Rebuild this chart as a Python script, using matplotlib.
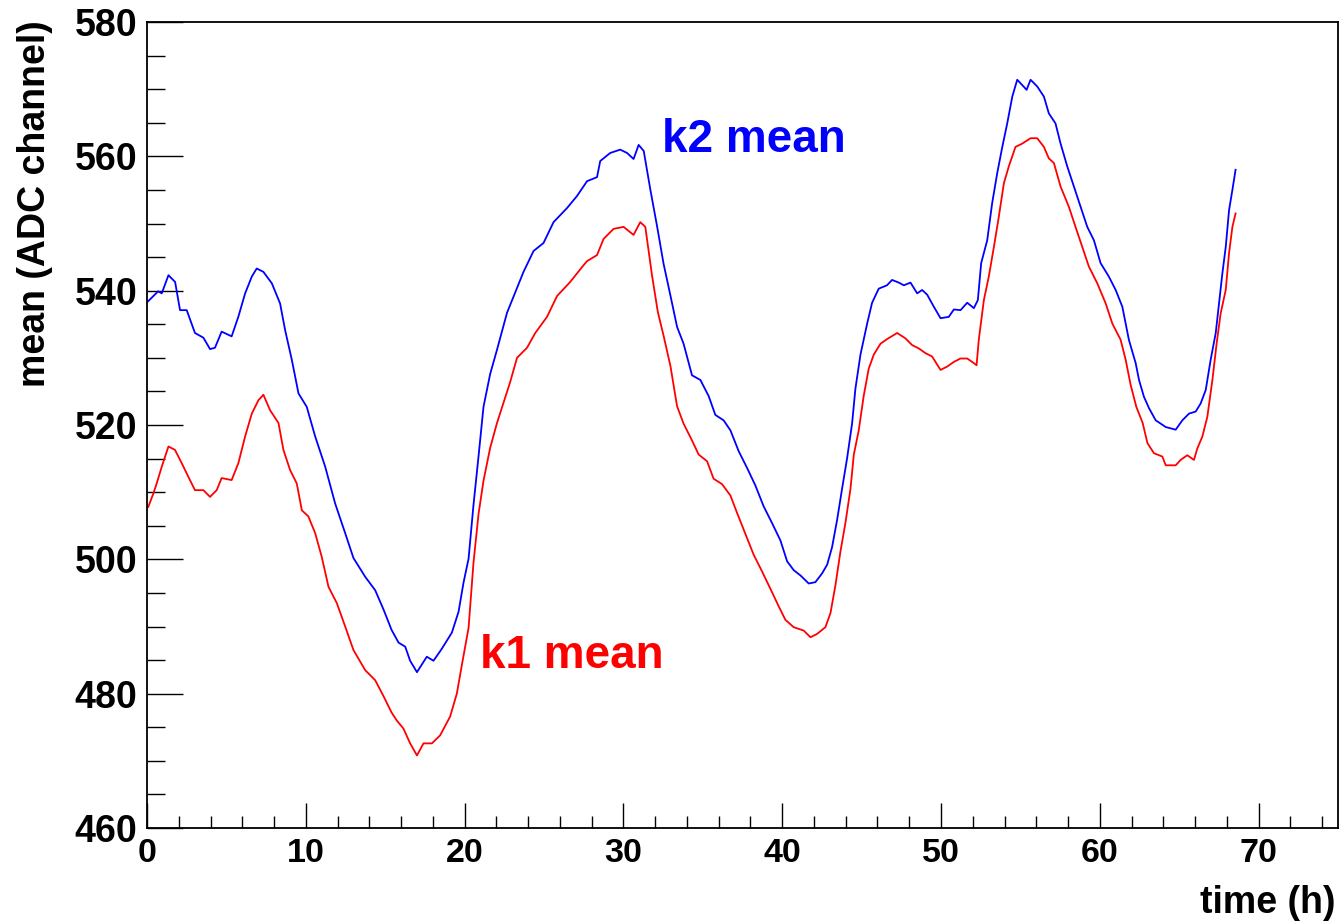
import matplotlib
matplotlib.use("Agg")
import matplotlib.pyplot as plt
from matplotlib.ticker import MultipleLocator

plt.rcParams['font.family'] = ['Liberation Sans', 'DejaVu Sans']

# ---- data ----
k2_time = [0.06, 0.7, 0.93, 1.35, 1.77, 2.08, 2.5, 3.02, 3.55, 3.97, 4.28, 4.7, 5.33, 5.75,
           6.18, 6.6, 6.91, 7.33, 7.86, 8.38, 8.7, 9.12, 9.54, 10.06, 10.59, 11.22, 11.85,
           12.48, 13.0, 13.74, 14.37, 14.9, 15.4, 15.84, 16.26, 16.57, 17.0, 17.62, 18.04,
           18.57, 19.2, 19.62, 19.93, 20.25, 20.56, 20.88, 21.19, 21.61, 22.04, 22.67, 23.3,
           23.71, 24.34, 24.97, 25.6, 26.45, 27.08, 27.71, 28.34, 28.54, 29.17, 29.8, 30.23,
           30.64, 30.96, 31.28, 31.7, 32.12, 32.53, 32.95, 33.38, 33.79, 34.32, 34.85, 35.37,
           35.79, 36.31, 36.74, 37.26, 37.79, 38.31, 38.83, 39.36, 39.89, 40.31, 40.72, 41.15,
           41.67, 42.09, 42.51, 42.83, 43.14, 43.46, 43.77, 44.09, 44.40, 44.61, 44.93, 45.35,
           45.66, 46.08, 46.6, 46.92, 47.34, 47.66, 48.08, 48.5, 48.81, 49.13, 49.55, 49.97,
           50.49, 50.81, 51.23, 51.65, 52.07, 52.32, 52.53, 52.91, 53.22, 53.54, 53.86, 54.17,
           54.49, 54.8, 55.12, 55.39, 55.64, 56.06, 56.48, 56.79, 57.21, 57.53, 57.95, 58.37,
           58.79, 59.21, 59.63, 60.05, 60.57, 61.0, 61.42, 61.83, 62.26, 62.47, 62.78, 63.1,
           63.52, 64.15, 64.78, 65.2, 65.62, 66.04, 66.35, 66.67, 66.98, 67.3, 67.51, 67.72,
           67.93, 68.14, 68.35, 68.55]
k2_mean = [538.4, 539.9, 539.6, 542.3, 541.3, 537.1, 537.1, 533.7, 533.0, 531.3, 531.5, 533.9,
           533.2, 536.1, 539.6, 542.1, 543.3, 542.8, 541.1, 538.1, 534.1, 529.7, 524.7, 522.7,
           518.3, 513.8, 508.3, 503.9, 500.2, 497.4, 495.4, 492.5, 489.5, 487.6, 487.0, 484.9,
           483.2, 485.5, 484.9, 486.7, 489.1, 492.2, 496.5, 500.1, 508.1, 515.4, 522.7, 527.6,
           531.2, 536.7, 540.4, 542.8, 545.9, 547.1, 550.2, 552.3, 554.1, 556.3, 556.9, 559.3,
           560.5, 561.0, 560.5, 559.6, 561.7, 560.8, 555.0, 549.6, 544.0, 539.4, 534.6, 532.1,
           527.4, 526.7, 524.3, 521.5, 520.7, 519.2, 516.1, 513.6, 511.0, 507.9, 505.4, 502.8,
           499.7, 498.4, 497.6, 496.4, 496.6, 497.9, 499.2, 501.8, 505.9, 510.5, 515.1, 520.2,
           525.4, 530.5, 535.1, 538.2, 540.3, 540.8, 541.6, 541.2, 540.8, 541.2, 539.6, 540.1,
           539.4, 537.6, 535.9, 536.1, 537.2, 537.1, 538.2, 537.4, 538.6, 544.1, 547.5, 553.0,
           557.5, 561.4, 564.9, 568.9, 571.4, 570.6, 569.9, 571.4, 570.4, 568.9, 566.4, 564.9,
           561.9, 558.5, 555.5, 552.5, 549.5, 547.5, 544.1, 542.1, 540.1, 537.6, 532.7, 529.2,
           526.7, 524.2, 522.5, 520.7, 519.7, 519.3, 520.7, 521.7, 522.0, 523.2, 525.2, 529.7,
           533.7, 538.1, 542.6, 546.5, 552.0, 555.0, 558.0]

k1_time = [0.08, 0.4, 0.61, 0.93, 1.35, 1.76, 2.19, 2.6, 3.02, 3.55, 3.97, 4.39, 4.7, 5.33,
           5.75, 6.18, 6.6, 7.02, 7.33, 7.75, 8.28, 8.59, 9.01, 9.43, 9.75, 10.16, 10.59, 11.0,
           11.43, 11.95, 12.48, 13.0, 13.74, 14.37, 14.9, 15.4, 15.73, 16.15, 16.57, 17.0,
           17.41, 17.94, 18.46, 19.09, 19.51, 19.83, 20.25, 20.56, 20.88, 21.19, 21.61, 22.04,
           22.45, 22.87, 23.3, 23.93, 24.45, 25.19, 25.82, 26.65, 27.39, 27.71, 28.34, 28.75,
           29.38, 30.01, 30.64, 31.06, 31.38, 31.8, 32.17, 32.54, 32.96, 33.38, 33.79, 34.32,
           34.74, 35.27, 35.68, 36.21, 36.74, 37.16, 37.68, 38.2, 38.73, 39.26, 39.78, 40.2,
           40.72, 41.35, 41.78, 42.2, 42.72, 43.04, 43.35, 43.67, 43.98, 44.3, 44.51, 44.82,
           45.13, 45.45, 45.77, 46.19, 46.61, 47.24, 47.76, 48.18, 48.6, 49.02, 49.44, 49.97,
           50.39, 50.81, 51.23, 51.65, 51.96, 52.24, 52.38, 52.7, 53.01, 53.33, 53.64, 53.96,
           54.27, 54.69, 55.12, 55.64, 56.06, 56.48, 56.79, 57.11, 57.53, 58.05, 58.47, 58.9,
           59.31, 59.84, 60.37, 60.79, 61.31, 61.63, 61.94, 62.3, 62.7, 63.0, 63.41, 63.94,
           64.15, 64.78, 65.09, 65.51, 65.93, 66.14, 66.46, 66.77, 67.09, 67.36, 67.61, 67.93,
           68.14, 68.35, 68.55]
k1_mean = [507.8, 509.8, 511.3, 513.8, 516.8, 516.3, 514.3, 512.3, 510.3, 510.3, 509.3, 510.3,
           512.1, 511.8, 514.3, 518.3, 521.7, 523.7, 524.5, 522.2, 520.3, 516.3, 513.3, 511.3,
           507.3, 506.4, 503.9, 500.4, 495.9, 493.5, 490.0, 486.5, 483.5, 482.0, 479.6, 477.2,
           476.0, 474.8, 472.6, 470.8, 472.6, 472.6, 473.8, 476.6, 480.0, 484.3, 489.8, 499.5,
           506.8, 511.7, 516.6, 520.3, 523.3, 526.4, 530.0, 531.5, 533.7, 536.1, 539.2, 541.3,
           543.5, 544.4, 545.3, 547.7, 549.2, 549.5, 548.3, 550.2, 549.5, 542.3, 536.8, 533.2,
           528.8, 522.8, 520.2, 517.7, 515.6, 514.6, 512.0, 511.2, 509.5, 506.9, 503.8, 500.7,
           498.2, 495.6, 493.0, 491.0, 489.9, 489.4, 488.4, 488.9, 489.9, 492.0, 496.1, 501.2,
           505.4, 510.5, 515.6, 519.2, 524.3, 528.4, 530.5, 532.1, 532.8, 533.7, 532.9, 531.9,
           531.4, 530.7, 530.2, 528.2, 528.7, 529.4, 529.9, 529.9, 529.4, 528.9, 532.7, 538.6,
           542.1, 546.5, 551.0, 556.0, 558.5, 561.4, 561.9, 562.7, 562.7, 561.4, 559.7, 559.0,
           555.5, 552.5, 549.5, 546.5, 543.6, 541.1, 538.1, 535.1, 532.7, 529.7, 526.0, 522.7,
           520.3, 517.3, 515.8, 515.3, 514.0, 514.0, 514.8, 515.5, 514.8, 516.5, 518.3, 521.2,
           526.7, 532.2, 536.6, 540.1, 545.6, 549.5, 551.5]

x_range = (0, 75)
y_range = (460, 580)
x_label = "time (h)"
y_label = "mean (ADC channel)"
k2_label = "k2 mean"
k1_label = "k1 mean"

# ---- figure ----
fig = plt.figure(figsize=(13.44, 9.24), dpi=100)
ax = fig.add_axes([147/1344, 96/924, 1191/1344, 806/924])

ax.plot(k2_time, k2_mean, color=(0, 0, 1), lw=1.3)
ax.plot(k1_time, k1_mean, color=(1, 0, 0), lw=1.3)

ax.set_xlim(*x_range)
ax.set_ylim(*y_range)

ax.xaxis.set_major_locator(MultipleLocator(10))
ax.xaxis.set_minor_locator(MultipleLocator(2))
ax.yaxis.set_major_locator(MultipleLocator(20))
ax.yaxis.set_minor_locator(MultipleLocator(5))

for s in ax.spines.values():
    s.set_linewidth(1.3)
    s.set_color('black')

ax.tick_params(axis='x', which='major', direction='in', length=18, width=1.0,
               labelsize=24.5, pad=7.5, top=False)
ax.tick_params(axis='x', which='minor', direction='in', length=8.5, width=1.0, top=False)
ax.tick_params(axis='y', which='major', direction='in', length=26, width=1.0,
               labelsize=27, pad=7, right=False)
ax.tick_params(axis='y', which='minor', direction='in', length=13, width=1.0, right=False)
for lab in ax.get_xticklabels() + ax.get_yticklabels():
    lab.set_fontweight('bold')

fig.text(1335/1344, 11/924, x_label, ha='right', va='baseline',
         fontsize=27, fontweight='bold')
fig.text(35/1344, (924-20)/924, y_label, rotation=90, ha='center', va='top',
         fontsize=27, fontweight='bold')

ax.text(32.43, 560.7, k2_label, color=(0, 0, 1), fontsize=33, fontweight='bold',
        ha='left', va='baseline')
ax.text(20.94, 483.8, k1_label, color=(1, 0, 0), fontsize=33, fontweight='bold',
        ha='left', va='baseline')

fig.savefig("out.png", dpi=100, facecolor='white')
